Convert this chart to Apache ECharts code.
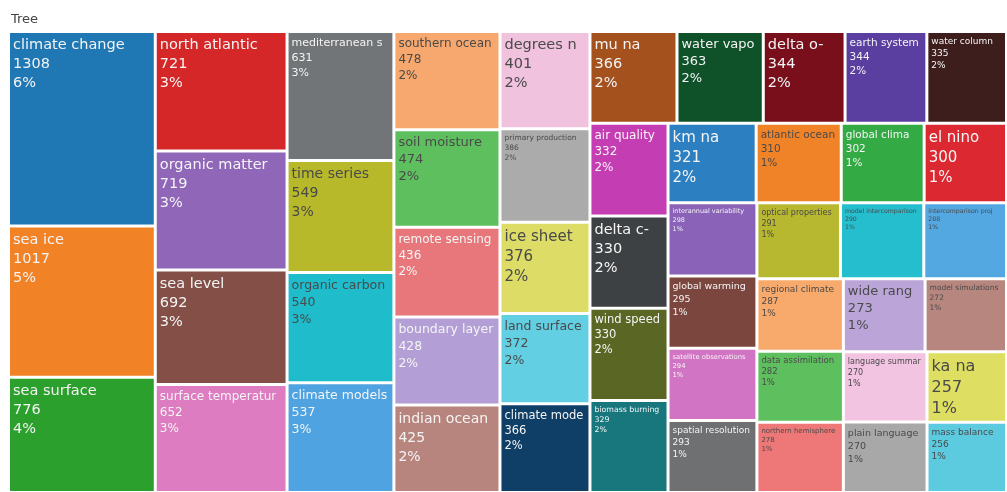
<!DOCTYPE html>
<html>
<head>
<meta charset="utf-8">
<script src="https://cdn.jsdelivr.net/npm/echarts@6/dist/echarts.min.js"></script>
<style>
  html, body { margin: 0; padding: 0; background: #ffffff; }
  #chart { width: 1007px; height: 492px; }
</style>
</head>
<body>
<div id="chart"></div>
<script>
// Terms and their counts, largest first
const terms = [
  'climate change', 'sea ice', 'sea surface', 'north atlantic', 'organic matter',
  'sea level', 'surface temperature', 'mediterranean sea', 'time series', 'organic carbon',
  'climate models', 'southern ocean', 'soil moisture', 'remote sensing', 'boundary layer',
  'indian ocean', 'degrees na', 'primary production', 'ice sheet', 'land surface',
  'climate model', 'mu na', 'water vapor', 'delta o-', 'earth system',
  'water column', 'air quality', 'delta c-', 'wind speed', 'biomass burning',
  'km na', 'atlantic ocean', 'global climate', 'el nino', 'interannual variability',
  'global warming', 'satellite observations', 'spatial resolution', 'optical properties', 'model intercomparison',
  'intercomparison project', 'regional climate', 'data assimilation', 'northern hemisphere', 'wide range',
  'model simulations', 'language summary', 'plain language', 'ka na', 'mass balance'
];
const counts = [
  1308, 1017, 776, 721, 719,
  692, 652, 631, 549, 540,
  537, 478, 474, 436, 428,
  425, 401, 386, 376, 372,
  366, 366, 363, 344, 344,
  335, 332, 330, 330, 329,
  321, 310, 302, 300, 298,
  295, 294, 293, 291, 290,
  288, 287, 282, 278, 273,
  272, 270, 270, 257, 256
];

// Tile fills, one per term
const tileColors = [
  '#1f77b4', '#f28226', '#2ca02c', '#d62728', '#9066b8',
  '#834f46', '#dd7cc0', '#727577', '#b8b92a', '#1fbccc',
  '#4fa3e0', '#f7a86e', '#5ebf5e', '#e8777b', '#b39fd6',
  '#b8857e', '#f0c2de', '#ababab', '#dcdc66', '#63cfe2',
  '#0f3f66', '#a5511e', '#0f5128', '#7a0f1c', '#5b3fa0',
  '#3e1e1c', '#c43db3', '#3e4143', '#5a6623', '#17777d',
  '#2c7fc1', '#f08228', '#33aa44', '#dc2830', '#8a62b8',
  '#7b463e', '#d274c4', '#6e7072', '#b8b830', '#24bece',
  '#53a8e2', '#f8aa6c', '#5ebf5e', '#ee7878', '#baa4d8',
  '#b7877f', '#f3c3e2', '#a8a8a8', '#dede62', '#5ccbe0'
];

// Label font size per tile and label tone ('d' = dark text on light fill, 'l' = light text)
const labelSizes = [
  14.5, 14.5, 14.5, 14.5, 14.5,
  14.5, 12, 11, 14, 12.5,
  12.5, 12, 13, 12, 12.5,
  14, 14.5, 7.5, 15, 12.5,
  11.5, 14.5, 13, 14.5, 10.5,
  9, 12, 14.5, 11.5, 7.8,
  15, 10.5, 10.5, 15, 6.5,
  9.5, 6.8, 9, 8, 6.2,
  6.2, 9, 8.5, 7, 13,
  7.5, 8, 9.5, 16, 9
];
const labelTones = [
  'l', 'l', 'l', 'l', 'l',
  'l', 'l', 'l', 'd', 'd',
  'l', 'd', 'd', 'l', 'l',
  'l', 'd', 'd', 'd', 'd',
  'l', 'l', 'l', 'l', 'l',
  'l', 'l', 'l', 'l', 'l',
  'l', 'd', 'l', 'l', 'l',
  'l', 'l', 'l', 'd', 'd',
  'd', 'd', 'd', 'd', 'd',
  'd', 'd', 'd', 'd', 'd'
];

const total = counts.reduce((a, b) => a + b, 0);

const tiles = terms.map((name, i) => {
  const fs = labelSizes[i];
  return {
    name: name,
    value: counts[i],
    itemStyle: { color: tileColors[i] },
    label: {
      fontSize: fs,
      lineHeight: Math.round(fs * 1.33),
      color: labelTones[i] === 'd' ? '#4a4a4a' : '#f4f4f4'
    }
  };
});

const chart = echarts.init(document.getElementById('chart'), null, { renderer: 'canvas' });

chart.setOption({
  animation: false,
  title: {
    text: 'Tree',
    left: 6,
    top: 8,
    textStyle: {
      fontFamily: 'DejaVu Sans',
      fontSize: 13,
      fontWeight: 'normal',
      color: '#444444'
    }
  },
  series: [{
    type: 'treemap',
    left: 10,
    top: 33,
    width: 995,
    height: 458,
    sort: false,
    squareRatio: 1,
    roam: false,
    nodeClick: false,
    visibleMin: 0,
    breadcrumb: { show: false },
    label: {
      show: true,
      position: 'insideTopLeft',
      padding: [3, 3, 0, 3],
      fontFamily: 'DejaVu Sans',
      overflow: 'truncate',
      ellipsis: '',
      formatter: p => p.name + '\n' + p.value + '\n' + Math.round(p.value / total * 100) + '%'
    },
    upperLabel: { show: false },
    itemStyle: { borderWidth: 0, gapWidth: 0 },
    levels: [
      { itemStyle: { borderWidth: 0, gapWidth: 3 } }
    ],
    emphasis: { disabled: true },
    data: tiles
  }]
});
</script>
</body>
</html>
